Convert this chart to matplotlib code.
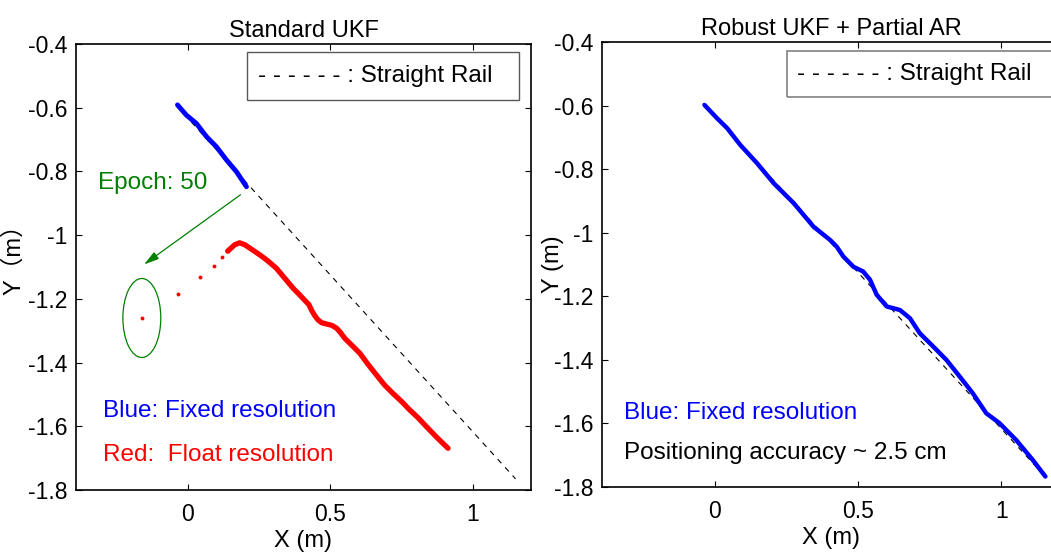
import numpy as np
import matplotlib.pyplot as plt
from matplotlib.patches import Ellipse, Rectangle

plt.rcParams['font.family'] = ['Liberation Sans', 'Noto Sans CJK SC', 'DejaVu Sans']

# straight rail (dashed reference)
rail_x = [-0.04, 1.15]
rail_y = [-0.593, -1.765]

# left: standard UKF
fix_lx = [-0.036, -0.005, 0.03, 0.066, 0.10, 0.136, 0.171, 0.206]
fix_ly = [-0.591, -0.623, -0.649, -0.691, -0.722, -0.764, -0.801, -0.848]

float_dots_x = [-0.161, -0.035, 0.042, 0.091, 0.12, 0.14]
float_dots_y = [-1.26, -1.185, -1.131, -1.097, -1.069, -1.05]

float_x = [0.14, 0.165, 0.182, 0.20, 0.225, 0.253, 0.28, 0.311, 0.34, 0.37, 0.39, 0.41, 0.425,
           0.434, 0.445, 0.457, 0.47, 0.487, 0.505, 0.522, 0.535, 0.551, 0.575, 0.604, 0.632,
           0.662, 0.69, 0.72, 0.75, 0.779, 0.81, 0.837, 0.875, 0.913]
float_y = [-1.05, -1.03, -1.024, -1.03, -1.045, -1.062, -1.08, -1.104, -1.135, -1.167, -1.185,
           -1.204, -1.218, -1.235, -1.252, -1.266, -1.275, -1.279, -1.283, -1.292, -1.305,
           -1.324, -1.345, -1.371, -1.405, -1.439, -1.47, -1.497, -1.522, -1.549, -1.575,
           -1.601, -1.636, -1.669]

# right: robust UKF + partial AR
fix_rx = [-0.035, 0.009, 0.044, 0.09, 0.148, 0.206, 0.276, 0.345, 0.403, 0.426, 0.449, 0.484,
          0.518, 0.542, 0.565, 0.60, 0.646, 0.681, 0.715, 0.762, 0.808, 0.854, 0.90, 0.947,
          0.993, 1.051, 1.109, 1.153]
fix_ry = [-0.598, -0.64, -0.671, -0.724, -0.781, -0.844, -0.907, -0.981, -1.023, -1.044,
          -1.075, -1.107, -1.122, -1.148, -1.195, -1.232, -1.243, -1.269, -1.316, -1.358,
          -1.40, -1.452, -1.505, -1.568, -1.599, -1.652, -1.715, -1.767]

yticks = [-1.8, -1.6, -1.4, -1.2, -1, -0.8, -0.6, -0.4]
ytick_labels = ['-1.8', '-1.6', '-1.4', '-1.2', '-1', '-0.8', '-0.6', '-0.4']
xticks = [0, 0.5, 1]
xtick_labels = ['0', '0.5', '1']

fs = 17.5      # annotation text
fs_tick = 16.5
fs_title = 17
fig = plt.figure(figsize=(10.51, 5.53), dpi=100)
ax1 = fig.add_axes([0.0723, 0.1139, 0.4329, 0.8065])
ax2 = fig.add_axes([0.5728, 0.1193, 0.4358, 0.8047])


def style(ax):
    ax.set_xlim(-0.392, 1.204)
    ax.set_ylim(-1.8, -0.4)
    ax.set_xticks(xticks)
    ax.set_xticklabels(xtick_labels)
    ax.set_yticks(yticks)
    ax.set_yticklabels(ytick_labels)
    ax.tick_params(direction='in', top=True, right=True, labelsize=fs_tick, length=4, width=0.8, pad=6)
    ax.tick_params(axis='x', pad=9)
    for s in ax.spines.values():
        s.set_linewidth(1.2)
    ax.set_xlabel('X (m)', fontsize=fs_title, labelpad=3)


style(ax1)
style(ax2)

# left panel
ax1.plot(rail_x, rail_y, color='black', ls=(0, (5, 5)), lw=0.8)
ax1.plot(fix_lx, fix_ly, color='blue', lw=3.5, solid_capstyle='round')
ax1.plot(float_x, float_y, color='red', lw=3.8, solid_capstyle='round')
ax1.plot(float_dots_x, float_dots_y, 'o', color='red', ms=2.8, mec='none')
ax1.add_patch(Ellipse((-0.161, -1.26), 0.133, 0.248, fill=False, ec='green', lw=0.9))
ax1.annotate('', xy=(-0.161, -1.097), xytext=(0.193, -0.868),
             arrowprops=dict(arrowstyle='-|>,head_length=0.9,head_width=0.25', color='green', lw=0.9))
ax1.text(-0.316, -0.836, 'Epoch: 50', color='green', fontsize=fs, va='center', ha='left')
ax1.text(-0.298, -1.552, 'Blue: Fixed resolution', color='blue', fontsize=fs, va='center')
ax1.text(-0.298, -1.69, 'Red:  Float resolution', color='red', fontsize=fs, va='center')
ax1.add_patch(Rectangle((0.376, 0.874), 0.598, 0.108, transform=ax1.transAxes,
                        fill=False, ec='0.35', lw=1.0))
ax1.text(0.40, 0.928, '- - - - - - : Straight Rail', transform=ax1.transAxes,
         fontsize=fs, va='center', ha='left')
ax1.set_title('Standard UKF', fontsize=fs_title, pad=5)
ax1.set_ylabel('Y（m）', fontsize=fs_title)
ax1.yaxis.set_label_coords(-0.112, 0.53)

# right panel
ax2.plot(rail_x, rail_y, color='black', ls=(0, (5, 5)), lw=0.8)
ax2.plot(fix_rx, fix_ry, color='blue', lw=3.2, solid_capstyle='round')
ax2.text(-0.316, -1.567, 'Blue: Fixed resolution', color='blue', fontsize=fs, va='center')
ax2.text(-0.316, -1.692, 'Positioning accuracy ~ 2.5 cm', color='black', fontsize=fs, va='center')
ax2.add_patch(Rectangle((0.404, 0.876), 0.62, 0.104, transform=ax2.transAxes,
                        fill=False, ec='0.5', lw=1.2, clip_on=False))
ax2.text(0.426, 0.928, '- - - - - - : Straight Rail', transform=ax2.transAxes,
         fontsize=fs, va='center', ha='left')
ax2.set_title('Robust UKF + Partial AR', fontsize=fs_title, pad=5)
ax2.set_ylabel('Y (m)', fontsize=fs_title, labelpad=-7)

fig.savefig('out.png', dpi=100)
